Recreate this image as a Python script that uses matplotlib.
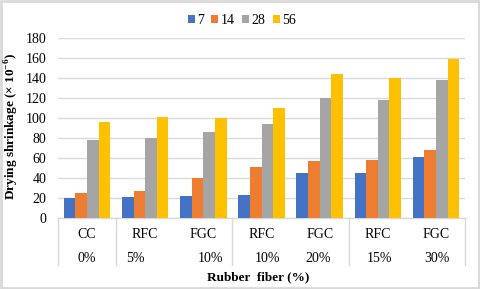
import matplotlib
matplotlib.use("Agg")
import matplotlib.pyplot as plt
import matplotlib.transforms as mtransforms
from matplotlib.patches import Rectangle
import numpy as np

plt.rcParams['font.family'] = ['Liberation Serif', 'DejaVu Serif']
plt.rcParams['mathtext.fontset'] = 'custom'
plt.rcParams['mathtext.rm'] = 'Liberation Serif'
plt.rcParams['mathtext.bf'] = 'Liberation Serif:bold'

mix_types = ["CC", "RFC", "FGC", "RFC", "FGC", "RFC", "FGC"]
fiber_pct = ["0%", "5%", "10%", "10%", "20%", "15%", "30%"]
series_names = ["7", "14", "28", "56"]
d7 = [20, 21, 22, 23, 45, 45, 61]
d14 = [25, 27, 40, 51, 57, 58, 68]
d28 = [78, 80, 86, 94, 120, 118, 138]
d56 = [96, 101, 100, 110, 144, 140, 159]
colors = ["#4472C4", "#ED7D31", "#A5A5A5", "#FFC000"]
yticks = [0, 20, 40, 60, 80, 100, 120, 140, 160, 180]

fs = 10
fig = plt.figure(figsize=(4.8, 2.89), dpi=100)
fig.patch.set_facecolor("white")
fig.patches.append(Rectangle((0.003, 0.004), 0.994, 0.992, transform=fig.transFigure,
                             fill=False, edgecolor="#D9D9D9", linewidth=2.0))

ax = fig.add_axes([58/480, 1-218/289, (465-58)/480, (218-38)/289])
x = np.arange(len(mix_types))
w = 0.2
for i, (vals, c, name) in enumerate(zip([d7, d14, d28, d56], colors, series_names)):
    ax.bar(x + (i - 1.5) * w, vals, width=w, color=c, label=name, zorder=3)

ax.set_xlim(-0.5, len(mix_types) - 0.5)
ax.set_ylim(0, 180)
ax.set_yticks(yticks)
ax.set_yticklabels([str(t) for t in yticks], fontsize=fs)
ax.tick_params(axis='y', length=0, pad=8.5)
ax.set_xticks([])
ax.grid(axis='y', color="#D9D9D9", linewidth=1.0, zorder=0)
for s in ["top", "right", "left"]:
    ax.spines[s].set_visible(False)
ax.spines["bottom"].set_color("#D9D9D9")
ax.spines["bottom"].set_linewidth(1.0)

trans = mtransforms.blended_transform_factory(ax.transData, fig.transFigure)
y_top = 1 - 218/289
y_bot = 1 - 265/289
for b in [-0.5, 0.5, 2.5, 4.5, 6.5]:
    ax.plot([b, b], [y_top, y_bot], transform=trans, color="#D9D9D9", lw=1.0,
            clip_on=False)
for xi, lab in zip(x, mix_types):
    ax.text(xi, 1 - 235/289, lab, transform=trans, ha='center', va='center', fontsize=fs)
offs = [0.0, -0.17, 0.12, 0.1, -0.02, 0.03, 0.02]
for xi, lab, o in zip(x, fiber_pct, offs):
    ax.text(xi + o, 1 - 258/289, lab, transform=trans, ha='center', va='center', fontsize=fs)

fig.text(258/480, 1 - 277/289, "Rubber  fiber (%)", ha='center', va='center',
         fontsize=9.5, fontweight='bold')
fig.text(12/480, 1 - 126/289, "Drying shrinkage (× 10$^{\\mathbf{-6}}$)", ha='center', va='center',
         rotation=90, fontsize=9.5, fontweight='bold')

leg = ax.legend(loc='center', bbox_to_anchor=(242/480, 1 - 20/289),
                bbox_transform=fig.transFigure, ncol=4, frameon=False,
                fontsize=fs, handlelength=0.5, handleheight=0.5,
                handletextpad=0.2, columnspacing=0.5)

fig.savefig("out.png", dpi=100, facecolor="white")
